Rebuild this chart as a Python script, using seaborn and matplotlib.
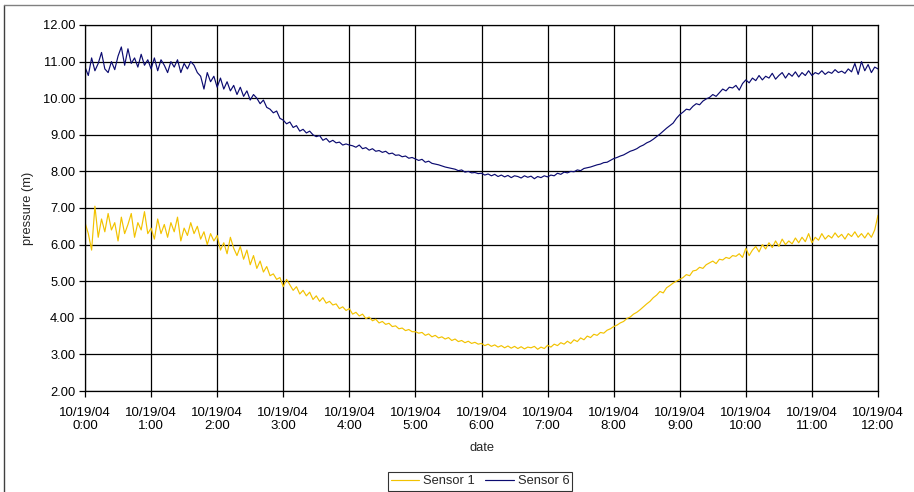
import numpy as np
import pandas as pd
import matplotlib
matplotlib.use("Agg")
import matplotlib.pyplot as plt
import matplotlib.dates as mdates
from matplotlib.lines import Line2D
import seaborn as sns

# Readings every 3 minutes, 10/19/04 0:00 - 12:00 (one row per hour)
sensor6 = [
    10.85, 10.62, 11.10, 10.75, 10.95, 11.25, 10.80, 10.70, 11.00, 10.78, 11.15, 11.40, 10.90, 11.35, 10.95, 11.10, 10.85, 11.20, 10.90, 11.05,
    10.80, 11.10, 10.75, 11.05, 10.90, 10.70, 11.00, 10.85, 11.05, 10.70, 10.95, 10.80, 11.00, 10.90, 10.70, 10.60, 10.25, 10.70, 10.45, 10.60,
    10.30, 10.55, 10.25, 10.45, 10.20, 10.35, 10.10, 10.30, 10.05, 10.20, 9.95, 10.10, 10.00, 9.85, 9.95, 9.75, 9.70, 9.60, 9.65, 9.45,
    9.40, 9.30, 9.35, 9.20, 9.25, 9.10, 9.15, 9.05, 9.10, 9.00, 8.95, 8.98, 8.85, 8.90, 8.80, 8.85, 8.78, 8.80, 8.72, 8.75,
    8.72, 8.70, 8.66, 8.72, 8.62, 8.65, 8.58, 8.62, 8.55, 8.57, 8.52, 8.55, 8.48, 8.50, 8.44, 8.45, 8.40, 8.42, 8.36, 8.38,
    8.34, 8.30, 8.33, 8.25, 8.28, 8.22, 8.20, 8.18, 8.15, 8.12, 8.10, 8.08, 8.06, 8.02, 8.04, 7.98, 8.00, 7.96, 7.97, 7.94,
    7.95, 7.90, 7.93, 7.88, 7.92, 7.86, 7.90, 7.85, 7.89, 7.83, 7.88, 7.86, 7.82, 7.88, 7.84, 7.87, 7.80, 7.86, 7.83, 7.88,
    7.85, 7.90, 7.88, 7.95, 7.92, 7.98, 7.96, 8.00, 7.99, 8.04, 8.02, 8.08, 8.10, 8.12, 8.15, 8.18, 8.20, 8.24, 8.25, 8.30,
    8.35, 8.38, 8.42, 8.45, 8.50, 8.55, 8.58, 8.62, 8.68, 8.72, 8.78, 8.82, 8.88, 8.95, 9.02, 9.10, 9.18, 9.25, 9.32, 9.45,
    9.55, 9.62, 9.70, 9.68, 9.78, 9.85, 9.82, 9.92, 9.98, 10.02, 10.10, 10.05, 10.15, 10.25, 10.20, 10.30, 10.28, 10.35, 10.22, 10.40,
    10.50, 10.42, 10.55, 10.48, 10.62, 10.50, 10.60, 10.55, 10.68, 10.52, 10.62, 10.70, 10.55, 10.68, 10.60, 10.72, 10.58, 10.70, 10.62, 10.75,
    10.62, 10.70, 10.66, 10.75, 10.65, 10.72, 10.68, 10.78, 10.70, 10.74, 10.68, 10.80, 10.72, 10.95, 10.65, 11.00, 10.75, 10.92, 10.70, 10.85,
    10.80,
]

sensor1 = [
    6.60, 6.30, 5.85, 7.05, 6.20, 6.70, 6.35, 6.85, 6.40, 6.60, 6.10, 6.75, 6.30, 6.55, 6.85, 6.20, 6.60, 6.40, 6.90, 6.30,
    6.45, 6.15, 6.70, 6.30, 6.55, 6.20, 6.60, 6.35, 6.75, 6.10, 6.45, 6.25, 6.60, 6.30, 6.50, 6.15, 6.35, 6.00, 6.30, 6.10,
    6.25, 5.85, 6.05, 5.75, 6.20, 5.90, 5.70, 5.95, 5.60, 5.85, 5.45, 5.70, 5.35, 5.55, 5.25, 5.40, 5.15, 5.20, 5.05, 5.10,
    4.85, 5.05, 4.90, 4.75, 4.85, 4.65, 4.75, 4.60, 4.70, 4.50, 4.60, 4.45, 4.55, 4.40, 4.45, 4.35, 4.38, 4.25, 4.30, 4.20,
    4.25, 4.10, 4.15, 4.05, 4.10, 3.98, 4.02, 3.92, 3.96, 3.86, 3.90, 3.82, 3.85, 3.76, 3.78, 3.70, 3.72, 3.65, 3.68, 3.62,
    3.62, 3.58, 3.60, 3.52, 3.56, 3.48, 3.52, 3.45, 3.48, 3.42, 3.46, 3.38, 3.42, 3.35, 3.38, 3.32, 3.36, 3.30, 3.33, 3.28,
    3.30, 3.24, 3.28, 3.22, 3.26, 3.20, 3.24, 3.18, 3.23, 3.17, 3.22, 3.16, 3.21, 3.15, 3.20, 3.18, 3.22, 3.14, 3.20, 3.16,
    3.25, 3.20, 3.28, 3.24, 3.32, 3.28, 3.36, 3.30, 3.40, 3.35, 3.45, 3.40, 3.50, 3.46, 3.55, 3.52, 3.60, 3.58, 3.66, 3.70,
    3.76, 3.80, 3.86, 3.90, 3.98, 4.02, 4.10, 4.15, 4.22, 4.30, 4.38, 4.45, 4.55, 4.62, 4.72, 4.68, 4.82, 4.88, 4.95, 5.00,
    5.05, 5.10, 5.18, 5.15, 5.28, 5.30, 5.38, 5.35, 5.45, 5.50, 5.55, 5.48, 5.60, 5.58, 5.65, 5.62, 5.70, 5.68, 5.75, 5.65,
    5.90, 5.70, 5.85, 5.95, 5.80, 6.00, 5.88, 6.05, 5.92, 6.10, 5.95, 6.15, 6.00, 6.10, 6.02, 6.18, 6.05, 6.20, 6.08, 6.30,
    6.05, 6.20, 6.12, 6.30, 6.15, 6.25, 6.18, 6.32, 6.20, 6.28, 6.15, 6.30, 6.22, 6.35, 6.20, 6.30, 6.18, 6.32, 6.20, 6.40,
    6.80,
]

start_time = "2004-10-19 00:00"
step = "3min"
y_ticks = [2, 3, 4, 5, 6, 7, 8, 9, 10, 11, 12]

times = pd.date_range(start_time, periods=len(sensor1), freq=step)
df = pd.DataFrame({"date": times, "Sensor 1": sensor1, "Sensor 6": sensor6})
long_df = df.melt(id_vars="date", var_name="series", value_name="pressure")

sns.set_theme(style="white")
plt.rcParams["font.family"] = ["Liberation Sans", "DejaVu Sans"]

fig = plt.figure(figsize=(9.14, 4.92), dpi=100)
ax = fig.add_axes([85 / 914, 1 - 391 / 492, (878 - 85) / 914, (391 - 25) / 492])

sns.lineplot(
    data=long_df, x="date", y="pressure", hue="series",
    palette={"Sensor 1": "#F2C200", "Sensor 6": "#0B0B70"},
    linewidth=0.85, ax=ax, legend=True,
)

ax.set_xlim(pd.Timestamp("2004-10-19 00:00"), pd.Timestamp("2004-10-19 12:00"))
ax.set_ylim(2, 12)
ax.set_yticks(y_ticks)
ax.yaxis.set_major_formatter(matplotlib.ticker.FormatStrFormatter("%.2f"))
ax.xaxis.set_major_locator(mdates.HourLocator(interval=1))
ax.xaxis.set_major_formatter(
    matplotlib.ticker.FuncFormatter(
        lambda v, p: mdates.num2date(v).strftime("%m/%d/%y\n") + str(mdates.num2date(v).hour) + ":00"
    )
)

ax.grid(True, color="black", linewidth=0.9)
for s in ax.spines.values():
    s.set_color("black")
    s.set_linewidth(0.9)
ax.tick_params(axis="both", which="major", direction="out", length=4, width=0.9,
               color="black", labelcolor="black", bottom=True, left=True)
ax.tick_params(axis="x", labelsize=9.5, pad=7.5)
ax.tick_params(axis="y", labelsize=9.3, pad=3)
for lbl in ax.get_xticklabels():
    lbl.set_linespacing(1.15)
ax.set_xlabel("date", fontsize=9.3, labelpad=7)
ax.set_ylabel("pressure (m)", fontsize=9.3, labelpad=6)

handles, labels = ax.get_legend_handles_labels()
ax.legend(handles, labels, loc="lower center", bbox_to_anchor=(480 / 914, 0.0),
          bbox_transform=fig.transFigure, ncol=2, frameon=True, fancybox=False,
          edgecolor="black", fontsize=9.3, handlelength=2.2, columnspacing=0.8,
          handletextpad=0.3, borderpad=0.25, borderaxespad=0.1)
ax.get_legend().get_frame().set_linewidth(0.8)

# chart-area border along the top and left edges
fig.add_artist(Line2D([4 / 914, 4 / 914], [0, 1 - 5 / 492], transform=fig.transFigure,
                      color="#404040", linewidth=1.0))
fig.add_artist(Line2D([4 / 914, 1], [1 - 5 / 492, 1 - 5 / 492], transform=fig.transFigure,
                      color="#808080", linewidth=1.0))

fig.savefig("out.png", dpi=100)
